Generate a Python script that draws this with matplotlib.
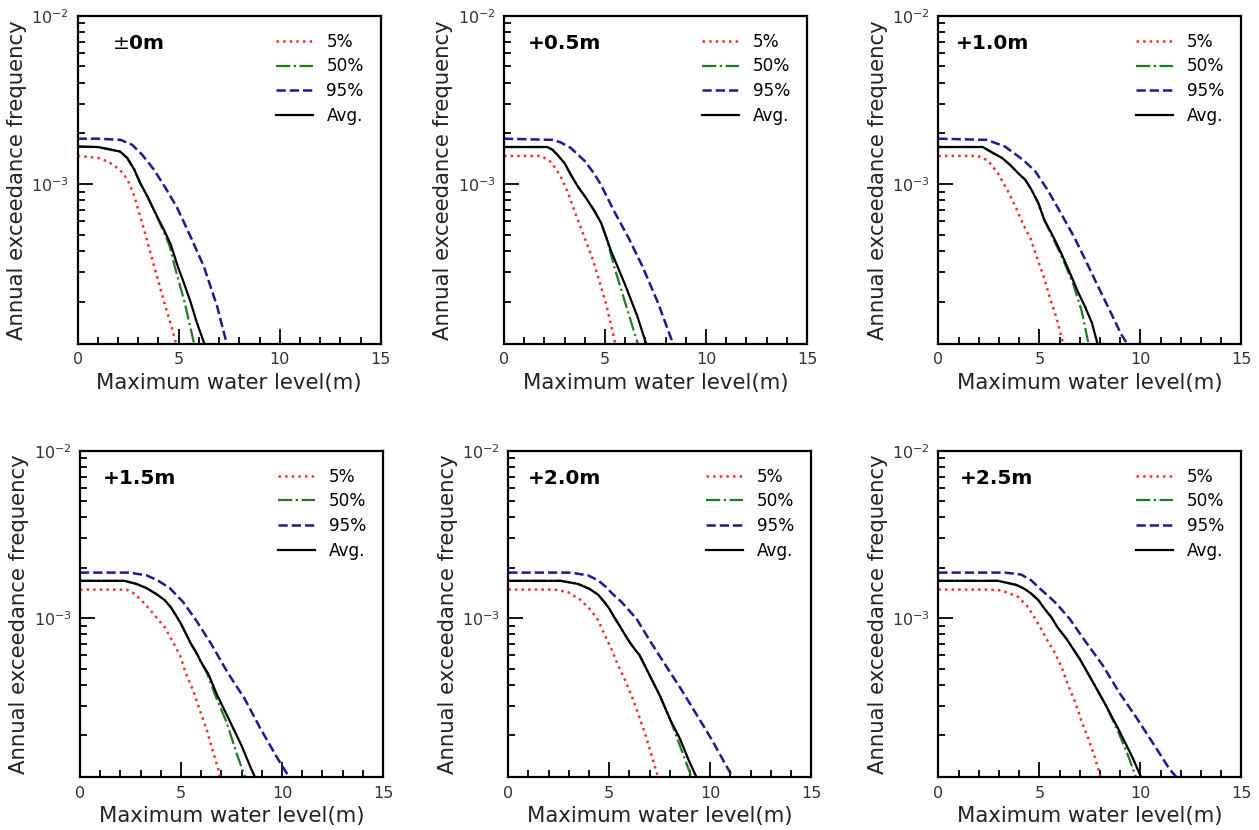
import numpy as np
import matplotlib
matplotlib.use('Agg')
import matplotlib.pyplot as plt
from matplotlib.ticker import LogLocator, NullFormatter, MultipleLocator

# scenario labels (sea level rise)
scenarios = ['$\\pm$0m', '+0.5m', '+1.0m', '+1.5m', '+2.0m', '+2.5m']
legend_labels = ['5%', '50%', '95%', 'Avg.']

# ---- +-0m ----
x00_p5 = [0, 1.0, 1.5, 2.0, 2.3, 2.55, 2.8, 3.05, 3.3, 3.55, 3.8, 4.05, 4.3, 4.55, 4.9]
y00_p5 = [1.47e-3, 1.43e-3, 1.36e-3, 1.24e-3, 1.14e-3, 1.01e-3, 8.5e-4, 6.7e-4, 5.3e-4, 4.1e-4, 3.2e-4, 2.5e-4, 1.95e-4, 1.55e-4, 1.1e-4]
x00_p50 = [0, 1.0, 2.1, 2.45, 2.8, 3.1, 3.45, 3.8, 4.2, 4.55, 4.8, 5.3, 5.78]
y00_p50 = [1.67e-3, 1.66e-3, 1.56e-3, 1.43e-3, 1.22e-3, 1.01e-3, 8.45e-4, 6.9e-4, 5.4e-4, 4.3e-4, 3.25e-4, 1.97e-4, 1.1e-4]
x00_p95 = [0, 1.0, 2.13, 2.7, 3.2, 3.77, 4.35, 4.93, 5.58, 6.24, 6.9, 7.4]
y00_p95 = [1.86e-3, 1.86e-3, 1.83e-3, 1.71e-3, 1.49e-3, 1.22e-3, 9.47e-4, 7.2e-4, 4.89e-4, 3.25e-4, 1.88e-4, 1.1e-4]
x00_avg = [0, 1.0, 2.1, 2.45, 2.8, 3.1, 3.45, 3.8, 4.25, 4.6, 4.95, 5.25, 5.6, 5.9, 6.3]
y00_avg = [1.67e-3, 1.66e-3, 1.56e-3, 1.43e-3, 1.22e-3, 1.01e-3, 8.45e-4, 6.9e-4, 5.4e-4, 4.4e-4, 3.25e-4, 2.6e-4, 1.97e-4, 1.5e-4, 1.1e-4]

# ---- +0.5m ----
x05_p5 = [0, 1.8, 2.05, 2.3, 2.55, 2.8, 3.15, 3.55, 4.05, 4.35, 4.7, 5.05, 5.3, 5.53]
y05_p5 = [1.47e-3, 1.47e-3, 1.42e-3, 1.36e-3, 1.24e-3, 1.11e-3, 9.0e-4, 6.6e-4, 4.6e-4, 3.7e-4, 2.7e-4, 1.95e-4, 1.45e-4, 1.1e-4]
x05_p50 = [0, 2.15, 2.4, 2.65, 3.0, 3.3, 3.65, 4.05, 4.45, 4.8, 5.05, 5.45, 5.95, 6.65]
y05_p50 = [1.66e-3, 1.66e-3, 1.6e-3, 1.49e-3, 1.33e-3, 1.14e-3, 9.7e-4, 8.3e-4, 7.0e-4, 5.9e-4, 4.9e-4, 3.25e-4, 2.06e-4, 1.1e-4]
x05_p95 = [0, 2.4, 2.8, 3.3, 4.0, 4.45, 4.8, 5.45, 6.2, 6.85, 7.6, 8.4]
y05_p95 = [1.86e-3, 1.83e-3, 1.77e-3, 1.64e-3, 1.37e-3, 1.16e-3, 9.9e-4, 6.9e-4, 4.7e-4, 3.25e-4, 2.0e-4, 1.1e-4]
x05_avg = [0, 2.15, 2.4, 2.65, 3.0, 3.3, 3.65, 4.05, 4.45, 4.8, 5.3, 5.95, 6.6, 7.06]
y05_avg = [1.66e-3, 1.66e-3, 1.6e-3, 1.49e-3, 1.33e-3, 1.14e-3, 9.7e-4, 8.3e-4, 7.0e-4, 5.9e-4, 4.0e-4, 2.6e-4, 1.64e-4, 1.1e-4]

# ---- +1.0m ----
x10_p5 = [0, 1.95, 2.45, 2.95, 3.45, 3.85, 4.2, 4.55, 4.85, 5.2, 5.5, 5.85, 6.2]
y10_p5 = [1.47e-3, 1.47e-3, 1.38e-3, 1.16e-3, 9.05e-4, 7.2e-4, 5.75e-4, 4.8e-4, 3.75e-4, 2.85e-4, 2.15e-4, 1.6e-4, 1.1e-4]
x10_p50 = [0, 2.2, 2.7, 3.15, 3.55, 3.95, 4.3, 4.6, 4.95, 5.25, 5.7, 6.2, 6.7, 7.1, 7.45]
y10_p50 = [1.66e-3, 1.66e-3, 1.53e-3, 1.43e-3, 1.3e-3, 1.16e-3, 1.06e-3, 9.3e-4, 7.7e-4, 6.1e-4, 4.7e-4, 3.5e-4, 2.5e-4, 1.75e-4, 1.1e-4]
x10_p95 = [0, 2.4, 3.3, 4.2, 4.8, 5.45, 6.1, 6.7, 7.35, 7.9, 8.5, 9.05, 9.4]
y10_p95 = [1.86e-3, 1.83e-3, 1.67e-3, 1.39e-3, 1.19e-3, 9.05e-4, 6.6e-4, 4.9e-4, 3.4e-4, 2.47e-4, 1.76e-4, 1.28e-4, 1.1e-4]
x10_avg = [0, 2.2, 2.7, 3.15, 3.55, 3.95, 4.3, 4.6, 4.95, 5.25, 5.6, 5.95, 6.25, 6.6, 6.9, 7.25, 7.6, 7.9]
y10_avg = [1.66e-3, 1.66e-3, 1.53e-3, 1.43e-3, 1.3e-3, 1.16e-3, 1.06e-3, 9.3e-4, 7.7e-4, 6.1e-4, 5.1e-4, 4.2e-4, 3.5e-4, 2.8e-4, 2.3e-4, 1.88e-4, 1.5e-4, 1.1e-4]

# ---- +1.5m ----
x15_p5 = [0, 2.3, 2.7, 3.2, 3.7, 4.2, 4.6, 4.95, 5.25, 5.6, 5.9, 6.25, 6.55, 6.85, 6.95]
y15_p5 = [1.48e-3, 1.48e-3, 1.4e-3, 1.22e-3, 1.04e-3, 8.8e-4, 7.2e-4, 6.0e-4, 4.65e-4, 3.7e-4, 2.9e-4, 2.2e-4, 1.65e-4, 1.25e-4, 1.1e-4]
x15_p50 = [0, 2.2, 2.8, 3.3, 3.75, 4.2, 4.5, 4.75, 5.0, 5.25, 5.5, 5.75, 6.0, 6.3, 6.7, 7.25, 7.8, 8.2]
y15_p50 = [1.67e-3, 1.67e-3, 1.6e-3, 1.51e-3, 1.4e-3, 1.28e-3, 1.16e-3, 1.04e-3, 9.25e-4, 8.05e-4, 7.0e-4, 6.25e-4, 5.45e-4, 4.65e-4, 3.45e-4, 2.4e-4, 1.5e-4, 1.1e-4]
x15_p95 = [0, 2.45, 3.3, 3.85, 4.45, 5.1, 5.75, 6.5, 7.3, 8.15, 8.95, 9.8, 10.4]
y15_p95 = [1.87e-3, 1.87e-3, 1.8e-3, 1.68e-3, 1.51e-3, 1.25e-3, 9.7e-4, 7.0e-4, 4.75e-4, 3.3e-4, 2.17e-4, 1.44e-4, 1.1e-4]
x15_avg = [0, 2.2, 2.8, 3.3, 3.75, 4.2, 4.5, 4.75, 5.0, 5.25, 5.5, 5.75, 6.0, 6.35, 6.8, 7.4, 8.0, 8.45, 8.7]
y15_avg = [1.67e-3, 1.67e-3, 1.6e-3, 1.51e-3, 1.4e-3, 1.28e-3, 1.16e-3, 1.04e-3, 9.25e-4, 8.05e-4, 7.0e-4, 6.25e-4, 5.45e-4, 4.65e-4, 3.45e-4, 2.45e-4, 1.73e-4, 1.28e-4, 1.1e-4]

# ---- +2.0m ----
x20_p5 = [0, 2.3, 2.95, 3.6, 4.1, 4.45, 4.75, 5.1, 5.4, 5.75, 6.1, 6.4, 6.75, 7.05, 7.35, 7.45]
y20_p5 = [1.48e-3, 1.48e-3, 1.43e-3, 1.28e-3, 1.11e-3, 9.7e-4, 8.05e-4, 6.55e-4, 5.35e-4, 4.35e-4, 3.45e-4, 2.75e-4, 2.08e-4, 1.58e-4, 1.19e-4, 1.1e-4]
x20_p50 = [0, 2.6, 3.45, 4.0, 4.45, 4.75, 5.0, 5.25, 5.5, 5.75, 6.0, 6.25, 6.5, 7.0, 7.5, 8.0, 8.6, 9.1]
y20_p50 = [1.67e-3, 1.67e-3, 1.6e-3, 1.5e-3, 1.38e-3, 1.25e-3, 1.14e-3, 1.01e-3, 9.05e-4, 8.05e-4, 7.2e-4, 6.55e-4, 6.0e-4, 4.55e-4, 3.45e-4, 2.5e-4, 1.6e-4, 1.1e-4]
x20_p95 = [0, 3.1, 3.95, 4.45, 4.85, 5.15, 5.6, 6.35, 7.05, 7.8, 8.55, 9.3, 10.05, 10.75, 11.15]
y20_p95 = [1.87e-3, 1.87e-3, 1.8e-3, 1.68e-3, 1.53e-3, 1.4e-3, 1.25e-3, 9.9e-4, 7.2e-4, 5.2e-4, 3.77e-4, 2.68e-4, 1.9e-4, 1.34e-4, 1.1e-4]
x20_avg = [0, 2.6, 3.45, 4.0, 4.45, 4.75, 5.0, 5.25, 5.5, 5.75, 6.0, 6.25, 6.5, 7.0, 7.5, 8.0, 8.5, 8.95, 9.35]
y20_avg = [1.67e-3, 1.67e-3, 1.6e-3, 1.5e-3, 1.38e-3, 1.25e-3, 1.14e-3, 1.01e-3, 9.05e-4, 8.05e-4, 7.2e-4, 6.55e-4, 6.0e-4, 4.55e-4, 3.45e-4, 2.5e-4, 1.9e-4, 1.4e-4, 1.1e-4]

# ---- +2.5m ----
x25_p5 = [0, 2.45, 3.1, 3.95, 4.45, 4.75, 5.1, 5.4, 5.75, 6.1, 6.4, 6.75, 7.05, 7.4, 7.75, 8.05]
y25_p5 = [1.48e-3, 1.48e-3, 1.465e-3, 1.34e-3, 1.16e-3, 1.01e-3, 8.6e-4, 7.35e-4, 6.25e-4, 5.1e-4, 4.05e-4, 3.2e-4, 2.5e-4, 1.94e-4, 1.47e-4, 1.1e-4]
x25_p50 = [0, 2.95, 3.85, 4.25, 4.6, 4.95, 5.25, 5.6, 5.9, 6.35, 7.0, 7.65, 8.3, 8.9, 9.4, 9.8]
y25_p50 = [1.67e-3, 1.67e-3, 1.58e-3, 1.5e-3, 1.4e-3, 1.28e-3, 1.14e-3, 1.01e-3, 8.8e-4, 7.5e-4, 5.7e-4, 4.15e-4, 3.0e-4, 2.1e-4, 1.5e-4, 1.1e-4]
x25_p95 = [0, 3.3, 4.1, 4.6, 5.0, 5.4, 5.85, 6.5, 7.3, 8.15, 8.95, 9.8, 10.6, 11.45, 11.85]
y25_p95 = [1.87e-3, 1.87e-3, 1.82e-3, 1.68e-3, 1.51e-3, 1.37e-3, 1.22e-3, 9.9e-4, 7.2e-4, 5.2e-4, 3.6e-4, 2.55e-4, 1.81e-4, 1.25e-4, 1.1e-4]
x25_avg = [0, 2.95, 3.85, 4.25, 4.6, 4.95, 5.25, 5.6, 5.9, 6.35, 7.0, 7.65, 8.3, 8.95, 9.6, 10.07]
y25_avg = [1.67e-3, 1.67e-3, 1.58e-3, 1.5e-3, 1.4e-3, 1.28e-3, 1.14e-3, 1.01e-3, 8.8e-4, 7.5e-4, 5.7e-4, 4.15e-4, 3.0e-4, 2.13e-4, 1.48e-4, 1.1e-4]

panels = [
    [(x00_p5, y00_p5), (x00_p50, y00_p50), (x00_p95, y00_p95), (x00_avg, y00_avg)],
    [(x05_p5, y05_p5), (x05_p50, y05_p50), (x05_p95, y05_p95), (x05_avg, y05_avg)],
    [(x10_p5, y10_p5), (x10_p50, y10_p50), (x10_p95, y10_p95), (x10_avg, y10_avg)],
    [(x15_p5, y15_p5), (x15_p50, y15_p50), (x15_p95, y15_p95), (x15_avg, y15_avg)],
    [(x20_p5, y20_p5), (x20_p50, y20_p50), (x20_p95, y20_p95), (x20_avg, y20_avg)],
    [(x25_p5, y25_p5), (x25_p50, y25_p50), (x25_p95, y25_p95), (x25_avg, y25_avg)],
]

# line styles for 5%, 50%, 95%, avg
styles = [
    dict(color='#ff2a2a', ls=':', lw=1.8),
    dict(color='#1e7d1e', ls='-.', lw=1.6),
    dict(color='#1a1a96', ls='--', lw=1.8),
    dict(color='black', ls='-', lw=1.6),
]

# axes placement (figure fractions)
lefts = [0.0617, 0.4003, 0.7453, 0.0635, 0.4037, 0.7453]
bottoms = [0.5855, 0.5855, 0.5855, 0.0635, 0.0635, 0.0635]
heights = [0.3955, 0.3955, 0.3955, 0.3935, 0.3935, 0.3935]
width = 0.2407
label_x = [0.112, 0.078, 0.058, 0.075, 0.064, 0.072]

fig = plt.figure(figsize=(12.59, 8.30), dpi=100)

for i in range(6):
    ax = fig.add_axes([lefts[i], bottoms[i], width, heights[i]])
    for (xs, ys), st, lab in zip(panels[i], styles, legend_labels):
        ax.plot(xs, ys, label=lab, **st)

    ax.set_yscale('log')
    ax.set_xlim(0, 15)
    ax.set_ylim(1.12e-4, 1e-2)
    ax.xaxis.set_major_locator(MultipleLocator(5))
    ax.xaxis.set_minor_locator(MultipleLocator(1))
    ax.yaxis.set_major_locator(LogLocator(base=10))
    ax.yaxis.set_minor_locator(LogLocator(base=10, subs=np.arange(2, 10)))
    ax.yaxis.set_minor_formatter(NullFormatter())

    ax.tick_params(which='both', direction='in', top=False, right=False,
                   width=1.3, colors='black', labelcolor='#333333')
    ax.tick_params(which='major', length=11, pad=6, labelsize=11.5)
    ax.tick_params(which='minor', length=5)
    for sp in ax.spines.values():
        sp.set_linewidth(1.6)

    ax.set_xlabel('Maximum water level(m)', fontsize=15.3, color='#222222', labelpad=4)
    ax.set_ylabel('Annual exceedance frequency', fontsize=15.3, color='#222222', labelpad=3)

    ax.text(label_x[i], 0.916, scenarios[i], transform=ax.transAxes,
            fontsize=14.5, fontweight='bold', ha='left', va='center')

    ax.legend(loc='upper right', frameon=False, fontsize=12.2,
              handlelength=2.2, handletextpad=0.8, labelspacing=0.4,
              borderaxespad=0.6)

fig.savefig('out.png', dpi=100)
